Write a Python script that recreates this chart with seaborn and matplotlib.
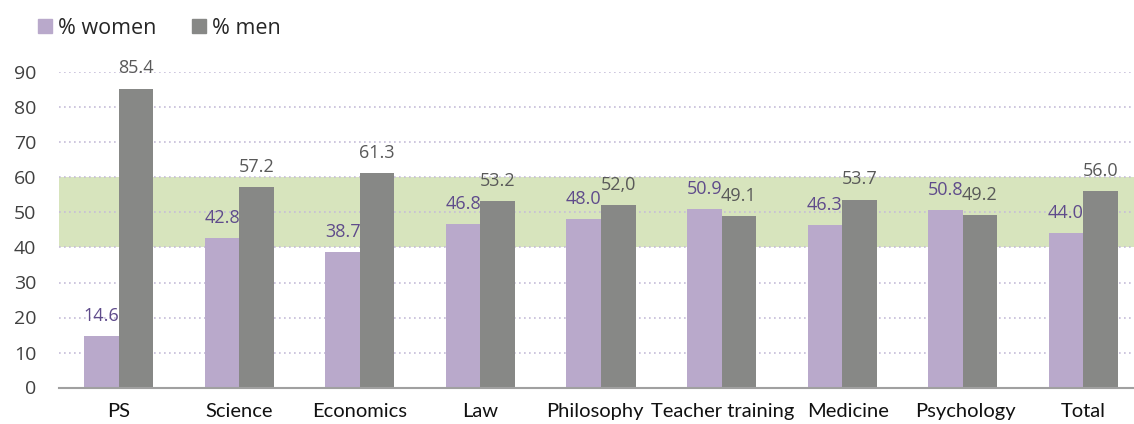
import pandas as pd
import matplotlib.pyplot as plt
import matplotlib.transforms as mtransforms
import seaborn as sns
from matplotlib.lines import Line2D

# chart data
faculties = ['PS', 'Science', 'Economics', 'Law', 'Philosophy',
             'Teacher training', 'Medicine', 'Psychology', 'Total']
women = [14.6, 42.8, 38.7, 46.8, 48.0, 50.9, 46.3, 50.8, 44.0]
men = [85.4, 57.2, 61.3, 53.2, 52.0, 49.1, 53.7, 49.2, 56.0]
women_labels = ['14.6', '42.8', '38.7', '46.8', '48.0', '50.9', '46.3', '50.8', '44.0']
men_labels = ['85.4', '57.2', '61.3', '53.2', '52,0', '49.1', '53.7', '49.2', '56.0']
series = ['% women', '% men']

df = pd.DataFrame({
    'faculty': faculties * 2,
    'group': [series[0]] * len(faculties) + [series[1]] * len(faculties),
    'value': women + men,
})

c_women = '#b9a9cb'
c_men = '#878886'

sns.set_style('white')
plt.rcParams['font.family'] = ['Open Sans', 'DejaVu Sans']

fig = plt.figure(figsize=(11.34, 4.24), dpi=100)
ax = fig.add_axes([58.5 / 1134, 1 - 387.5 / 424, 1085 / 1134, 315 / 424])

# 40-60 balance zone
ax.axhspan(40, 60, color='#d7e4bd', zorder=0.1, lw=0)

sns.barplot(data=df, x='faculty', y='value', hue='group', order=faculties,
            hue_order=series, palette=[c_women, c_men], width=0.573,
            saturation=1, ax=ax, legend=False, zorder=2, linewidth=0)

for cont, labs, col in zip(ax.containers, [women_labels, men_labels], ['#5f4b8b', '#595959']):
    ax.bar_label(cont, labels=labs, padding=8, color=col, fontsize=13)

ax.set_ylim(0, 90)
ax.set_xlim(-0.5, len(faculties) - 0.5)
ax.set_yticks(range(0, 91, 10))
ax.yaxis.grid(True, linestyle=(0, (1, 2)), color='#c5bcd8', linewidth=1.2, zorder=0.5)
ax.set_axisbelow(True)

ax.set_xlabel('')
ax.set_ylabel('')
for s in ['top', 'right', 'left']:
    ax.spines[s].set_visible(False)
ax.spines['bottom'].set_color('#a0a0a0')
ax.spines['bottom'].set_linewidth(1.5)

ax.tick_params(axis='y', length=0, pad=16, labelsize=14, labelcolor='#404040')
ax.tick_params(axis='x', which='major', length=0, pad=11)
ax.set_xticks([i - 0.5 for i in range(len(faculties) + 1)], minor=True)
ax.tick_params(axis='x', which='minor', length=6, color='#a0a0a0', width=1.5)
# small sideways nudges so the long labels don't run into each other
nudge = {'Philosophy': -6, 'Teacher training': 1, 'Medicine': 6, 'Psychology': 3}
for lab in ax.get_xticklabels():
    lab.set_fontfamily(['Lato', 'DejaVu Sans'])
    lab.set_fontsize(14.5)
    lab.set_color('#111111')
    dx = nudge.get(lab.get_text(), 0)
    if dx:
        lab.set_transform(lab.get_transform() +
                          mtransforms.ScaledTranslation(dx / 100, 0, fig.dpi_scale_trans))

handles = [Line2D([], [], marker='s', linestyle='', markersize=10, color=c)
           for c in [c_women, c_men]]
fig.legend(handles, series, loc='center left', bbox_to_anchor=(0.013, 1 - 28 / 424),
           ncol=2, frameon=False, fontsize=15.5, handletextpad=0.1,
           columnspacing=1.5, handlelength=1.0, labelcolor='#262626')

fig.savefig('out.png', dpi=100)
plt.close(fig)
